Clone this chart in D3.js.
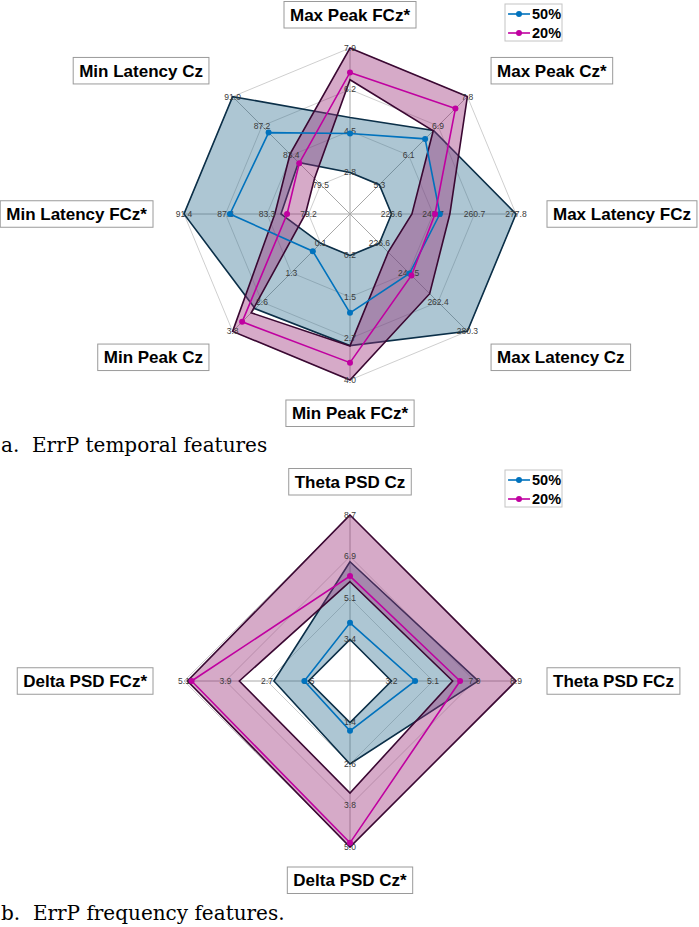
<!DOCTYPE html>
<html>
<head>
<meta charset="utf-8">
<script src="https://cdn.jsdelivr.net/npm/d3@7/dist/d3.min.js"></script>
<style>
  body { margin: 0; background: #fff; }
  svg { display: block; }
</style>
</head>
<body>
<svg id="chart" width="699" height="927"></svg>
<script>
"use strict";

// ---- panel a: ErrP temporal features (axes clockwise from top) ----
const temporalAxes = ["Max Peak FCz*", "Max Peak Cz*", "Max Latency FCz", "Max Latency Cz",
    "Min Peak FCz*", "Min Peak Cz", "Min Latency FCz*", "Min Latency Cz"];
const temporalTicks = [
    ["2.8", "4.5", "6.2", "7.9"],
    ["5.3", "6.1", "6.9", "7.8"],
    ["226.6", "243.7", "260.7", "277.8"],
    ["226.6", "244.5", "262.4", "280.3"],
    ["0.2", "1.5", "2.7", "4.0"],
    ["0.1", "1.3", "2.6", "3.8"],
    ["79.2", "83.3", "87.3", "91.4"],
    ["79.5", "83.4", "87.2", "91.0"]
];
const temporal50 = [4.4, 6.6, 246.5, 245.0, 1.95, 0.43, 86.9, 86.3];
const temporal50Hi = [5.05, 6.84, 277.8, 280.3, 2.95, 2.85, 91.4, 91.0];
const temporal50Lo = [2.8, 5.3, 226.6, 226.6, 0.2, 0.1, 81.9, 82.4];
const temporal20 = [6.9, 7.46, 244.5, 246.2, 3.47, 3.4, 81.3, 82.3];
const temporal20Hi = [7.9, 7.8, 250.6, 257.3, 4.0, 3.8, 82.5, 83.5];
const temporal20Lo = [6.6, 6.83, 235.0, 232.0, 2.96, 3.02, 79.5, 80.3];

// ---- panel b: ErrP frequency features ----
const freqAxes = ["Theta PSD Cz", "Theta PSD FCz", "Delta PSD Cz*", "Delta PSD FCz*"];
const freqTicks = [
    ["3.4", "5.1", "6.9", "8.7"],
    ["3.2", "5.1", "7.0", "8.9"],
    ["1.4", "2.6", "3.8", "5.0"],
    ["1.5", "2.7", "3.9", "5.1"]
];
const freq50 = [4.11, 4.28, 1.64, 1.62];
const freq50Hi = [6.71, 7.17, 2.6, 2.5];
const freq50Lo = [3.4, 3.2, 1.4, 1.5];
const freq20 = [6.1, 6.34, 4.88, 4.88];
const freq20Hi = [8.7, 8.9, 5.0, 5.0];
const freq20Lo = [5.86, 6.0, 3.44, 3.5];

const seriesNames = ["50%", "20%"];
const seriesColors = ["#0072bd", "#c000a0"];
const bandFills = ["rgba(50,112,145,0.4)", "rgba(152,42,117,0.4)"];
const bandStrokes = ["#0b2f48", "#3a0832"];

const svg = d3.select("#chart");
const R = 166;

function radar (cx, cy, axes, ticks, series) {
    const g = svg.append("g").attr("transform", "translate(" + cx + "," + cy + ")");
    const n = axes.length;
    const angle = d3.scaleLinear().domain([0, n]).range([0, 2 * Math.PI]);
    // one radial scale per axis, first tick sits one ring out from the centre
    const scales = ticks.map(function (t) {
        return d3.scaleLinear().domain([+t[0], +t[t.length - 1]]).range([R / 4, R]).clamp(true);
    });
    const pt = function (i, r) {
        const a = angle(i);
        return [r * Math.sin(a), -r * Math.cos(a)];
    };
    const ring = d3.line().curve(d3.curveLinearClosed);
    const valuePoly = function (vals) {
        return vals.map(function (v, i) { return pt(i, scales[i](v)); });
    };

    // rings
    d3.range(1, 5).forEach(function (k) {
        g.append("path")
            .attr("d", ring(d3.range(n).map(function (i) { return pt(i, R * k / 4); })))
            .attr("fill", "none")
            .attr("stroke", "#cfcfcf")
            .attr("stroke-width", 1);
    });
    // spokes
    g.selectAll(".spoke")
        .data(d3.range(n))
        .enter()
        .append("line")
        .attr("class", "spoke")
        .attr("x1", 0).attr("y1", 0)
        .attr("x2", function (i) { return pt(i, R)[0]; })
        .attr("y2", function (i) { return pt(i, R)[1]; })
        .attr("stroke", "#a8a8a8")
        .attr("stroke-width", 1);

    // shaded bands (between low and high polygons)
    series.forEach(function (s, si) {
        const outer = valuePoly(s.hi);
        const inner = valuePoly(s.lo);
        g.append("path")
            .attr("d", ring(outer) + ring(inner))
            .attr("fill", bandFills[si])
            .attr("fill-rule", "evenodd")
            .attr("stroke", bandStrokes[si])
            .attr("stroke-width", 1.6)
            .attr("stroke-linejoin", "miter");
    });

    // tick labels
    ticks.forEach(function (t, i) {
        t.forEach(function (label, k) {
            const p = pt(i, R * (k + 1) / 4);
            g.append("text")
                .attr("x", p[0]).attr("y", p[1])
                .attr("dy", "0.35em")
                .attr("text-anchor", "middle")
                .attr("font-family", "Liberation Sans, Arial, sans-serif")
                .attr("font-size", 8.5)
                .attr("fill", "#3a3a3a")
                .text(label);
        });
    });

    // mean lines with markers
    series.forEach(function (s, si) {
        const poly = valuePoly(s.mean);
        g.append("path")
            .attr("d", ring(poly))
            .attr("fill", "none")
            .attr("stroke", seriesColors[si])
            .attr("stroke-width", 1.6);
        g.selectAll(".dot" + si)
            .data(poly)
            .enter()
            .append("circle")
            .attr("cx", function (d) { return d[0]; })
            .attr("cy", function (d) { return d[1]; })
            .attr("r", 3)
            .attr("fill", seriesColors[si]);
    });

    // axis titles in boxes
    const labelR = 191;
    axes.forEach(function (name, i) {
        const a = angle(i);
        const sx = Math.sin(a), cy2 = Math.cos(a);
        const ax = labelR * sx, ay = -labelR * cy2;
        const t = g.append("text")
            .attr("font-family", "Liberation Sans, Arial, sans-serif")
            .attr("font-weight", "bold")
            .attr("font-size", 17)
            .attr("fill", "#000")
            .text(name);
        const w = t.node().getComputedTextLength() + 12;
        const h = 26.5;
        let bx, by;
        if (sx > 0.01) bx = ax + 6;
        else if (sx < -0.01) bx = ax - 6 - w;
        else bx = ax - w / 2;
        if (cy2 > 0.01) by = ay + 5 - h;
        else if (cy2 < -0.01) by = ay - 5;
        else by = ay - h / 2;
        g.insert("rect", function () { return t.node(); })
            .attr("x", bx).attr("y", by)
            .attr("width", w).attr("height", h)
            .attr("fill", "#fff")
            .attr("stroke", "#9a9a9a")
            .attr("stroke-width", 1);
        t.attr("x", bx + w / 2).attr("y", by + h / 2)
            .attr("dy", "0.36em")
            .attr("text-anchor", "middle");
    });
}

function legend (x, y) {
    const g = svg.append("g").attr("transform", "translate(" + x + "," + y + ")");
    g.append("rect")
        .attr("width", 57).attr("height", 37)
        .attr("fill", "#fff")
        .attr("stroke", "#c4c4c4");
    seriesNames.forEach(function (name, i) {
        const yy = 10 + i * 19;
        g.append("line")
            .attr("x1", 3).attr("x2", 25).attr("y1", yy).attr("y2", yy)
            .attr("stroke", seriesColors[i]).attr("stroke-width", 1.6);
        g.append("circle")
            .attr("cx", 14).attr("cy", yy).attr("r", 3)
            .attr("fill", seriesColors[i]);
        g.append("text")
            .attr("x", 27).attr("y", yy).attr("dy", "0.36em")
            .attr("font-family", "Liberation Sans, Arial, sans-serif")
            .attr("font-weight", "bold")
            .attr("font-size", 14.5)
            .text(name);
    });
}

function caption (x, y, text) {
    svg.append("text")
        .attr("x", x).attr("y", y)
        .attr("font-family", "DejaVu Serif, Liberation Serif, serif")
        .attr("font-size", 20)
        .attr("fill", "#000")
        .attr("xml:space", "preserve")
        .style("white-space", "pre")
        .text(text);
}

radar(350, 214, temporalAxes, temporalTicks, [
    { mean: temporal50, hi: temporal50Hi, lo: temporal50Lo },
    { mean: temporal20, hi: temporal20Hi, lo: temporal20Lo }
]);
legend(505, 4);
caption(1, 452, "a.  ErrP temporal features");

radar(350, 681, freqAxes, freqTicks, [
    { mean: freq50, hi: freq50Hi, lo: freq50Lo },
    { mean: freq20, hi: freq20Hi, lo: freq20Lo }
]);
legend(505, 470);
caption(1, 920, "b.  ErrP frequency features.");
</script>
</body>
</html>
